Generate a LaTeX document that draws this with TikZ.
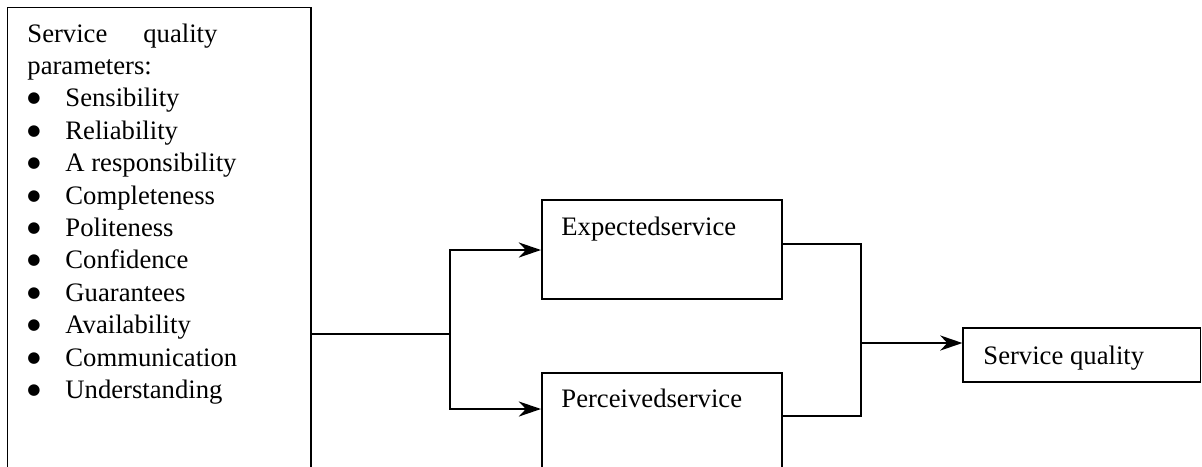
\documentclass[tikz,border=0pt]{standalone}
\usepackage{fontspec}
\setmainfont{Liberation Serif}
\newfontfamily\dejavu{DejaVu Sans}
\usetikzlibrary{arrows.meta,calc}
\newcommand{\sqbullet}{\raisebox{1.8pt}{\dejavu\fontsize{6.8}{7}\selectfont ●}}
\newcommand{\sqitem}[1]{\hbox{\makebox[17.1pt][l]{\sqbullet}#1}}
\tikzset{
  boxthin/.style={draw, line width=0.5pt, inner sep=0pt},
  boxthick/.style={draw, line width=0.9pt, inner sep=0pt},
  txt/.style={anchor=base west, inner sep=0pt, font=\fontsize{12}{14.58}\selectfont},
  conn/.style={line width=0.9pt},
  arr/.style={conn, -{Stealth[length=10pt,width=6.8pt,inset=3.2pt]}},
}
\begin{document}
\begin{tikzpicture}[x=0.45pt,y=-0.45pt]
\clip (0,0) rectangle (1202,466);
% left box
\node[boxthin, minimum width=136.6pt, minimum height=221.6pt] (params) at (159.25,253.75) {};
\node[txt] (paramtext) at (27,42) {\vtop{%
  \hbox to 85.5pt{Service\hfill quality}%
  \hbox{parameters:}%
  \sqitem{Sensibility}%
  \sqitem{Reliability}%
  \sqitem{A responsibility}%
  \sqitem{Completeness}%
  \sqitem{Politeness}%
  \sqitem{Confidence}%
  \sqitem{Guarantees}%
  \sqitem{Availability}%
  \sqitem{Communication}%
  \sqitem{Understanding}}};
% middle boxes
\node[boxthick, minimum width=108pt, minimum height=44.55pt] (exp) at (662,249.5) {};
\node[txt] (exptext) at (561,235) {Expectedservice};
\node[boxthick, minimum width=108pt, minimum height=54pt] (perc) at (662,433) {};
\node[txt] (perctext) at (561,407) {Perceivedservice};
% right box
\node[boxthin, minimum width=106.9pt, minimum height=24.3pt] (sq) at (1081.75,355) {};
\node[txt] (sqtext) at (983,364) {Service quality};
% connectors
\coordinate (fork) at (450,334);
\draw[line width=0.65pt] (params.east |- fork) -- (fork);
\draw[arr] (fork) |- ($(exp.north west)+(0,51)$);
\draw[arr] (fork) |- ($(perc.north west)+(0,37)$);
\coordinate (join) at (861,343);
\draw[conn] ($(exp.north east)+(0,45)$) -| (join) |- ($(perc.north east)+(0,44)$);
\draw[arr] (join) -- (sq.west |- join);
\end{tikzpicture}
\end{document}
